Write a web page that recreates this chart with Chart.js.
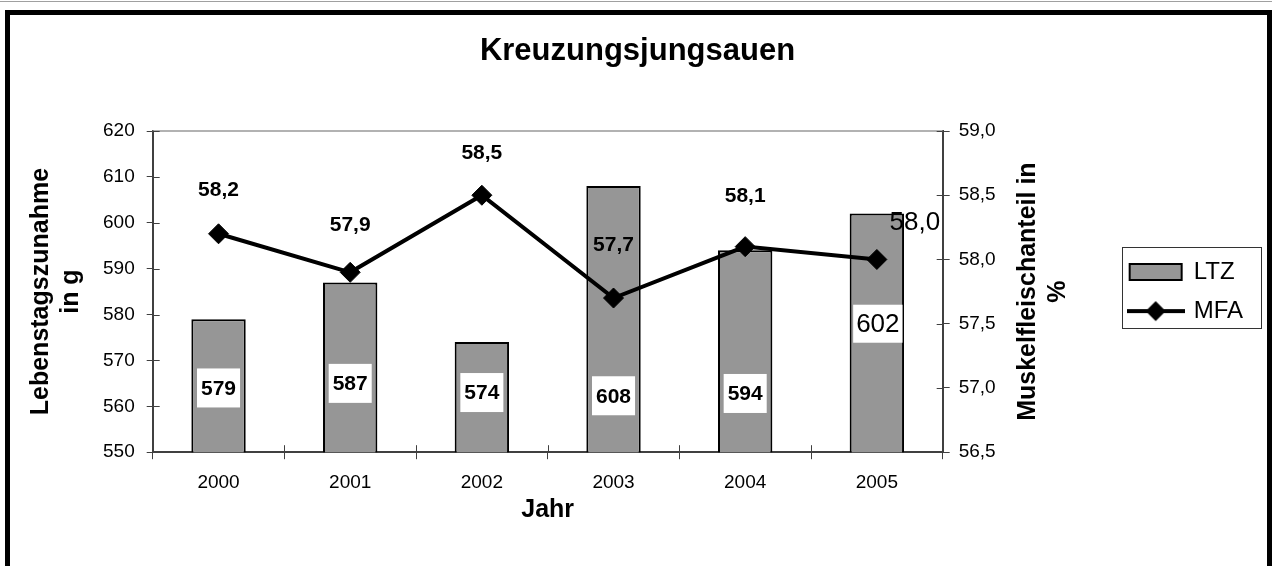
<!DOCTYPE html>
<html>
<head>
<meta charset="utf-8">
<title>Kreuzungsjungsauen</title>
<script src="https://cdn.jsdelivr.net/npm/chart.js@4.4.1/dist/chart.umd.min.js"></script>
<style>
  html, body { margin: 0; padding: 0; background: #fff; overflow: hidden; }
  #wrap { position: relative; width: 1272px; height: 566px; }
  #c { position: absolute; left: 0; top: 0; }
  #topline { position: absolute; left: 0; top: 1px; width: 1272px; height: 1px; background: #a0a0a0; }
  #frame { position: absolute; left: 5px; top: 10px; width: 1267px; height: 600px;
           border: 5px solid #000; box-sizing: border-box; pointer-events: none; }
</style>
</head>
<body>
<div id="wrap">
  <div id="topline"></div>
  <canvas id="c" width="1272" height="566"></canvas>
  <div id="frame"></div>
</div>
<script>
// Daten
const jahre = ['2000', '2001', '2002', '2003', '2004', '2005'];
const ltz = [579, 587, 574, 608, 594, 602];          // Lebenstagszunahme in g
const mfa = [58.2, 57.9, 58.5, 57.7, 58.1, 58.0];     // Muskelfleischanteil in %
const linksSkala = [550, 560, 570, 580, 590, 600, 610, 620];
const rechtsSkala = [56.5, 57.0, 57.5, 58.0, 58.5, 59.0];

const FONT = "'Liberation Sans', Arial, sans-serif";
const balkenFarbe = '#969696';
const achsenFarbe = '#404040';

Chart.defaults.font.family = FONT;
Chart.defaults.color = '#000';

const komma = v => v.toFixed(1).replace('.', ',');

// Legendensymbol für die Linie (Linie mit Raute)
const mfaSymbol = document.createElement('canvas');
mfaSymbol.width = 58;
mfaSymbol.height = 22;
(() => {
  const g = mfaSymbol.getContext('2d');
  g.strokeStyle = '#000';
  g.lineWidth = 4;
  g.beginPath();
  g.moveTo(0, 11);
  g.lineTo(58, 11);
  g.stroke();
  g.fillStyle = '#000';
  g.beginPath();
  g.moveTo(29, 1); g.lineTo(39, 11); g.lineTo(29, 21); g.lineTo(19, 11);
  g.closePath();
  g.fill();
})();

const zusatz = {
  id: 'zusatz',
  beforeDatasetsDraw(chart) {
    const ctx = chart.ctx;
    const {left, right, top, bottom} = chart.chartArea;
    ctx.save();
    // obere Rahmenlinie der Zeichenfläche
    ctx.strokeStyle = '#999';
    ctx.lineWidth = 1.5;
    ctx.beginPath();
    ctx.moveTo(left, top);
    ctx.lineTo(right, top);
    ctx.stroke();
    // Teilstriche nach innen
    ctx.strokeStyle = achsenFarbe;
    ctx.lineWidth = 1;
    ctx.beginPath();
    linksSkala.forEach(v => {
      const py = Math.round(chart.scales.y.getPixelForValue(v)) + 0.5;
      ctx.moveTo(left, py); ctx.lineTo(left + 7, py);
    });
    rechtsSkala.forEach(v => {
      const py = Math.round(chart.scales.y1.getPixelForValue(v)) + 0.5;
      ctx.moveTo(right - 6, py); ctx.lineTo(right, py);
    });
    const xs = chart.scales.x;
    const halb = (xs.getPixelForValue(1) - xs.getPixelForValue(0)) / 2;
    for (let i = 0; i <= jahre.length; i++) {
      const px = Math.round(xs.getPixelForValue(i) - halb) + 0.5;
      ctx.moveTo(px, bottom); ctx.lineTo(px, bottom - 7);
    }
    ctx.stroke();
    ctx.restore();
  },
  afterDatasetsDraw(chart) {
    const ctx = chart.ctx;
    const y = chart.scales.y;
    const balken = chart.getDatasetMeta(0).data;
    const punkte = chart.getDatasetMeta(1).data;
    const balkenLabelBei = [564, 565, 563, 562.3, 562.8, 578];
    const mfaAbstand = [44, 47, 42, 53, 50];
    ctx.save();
    ctx.textAlign = 'center';
    ctx.textBaseline = 'middle';
    balken.forEach((b, i) => {
      const letzte = i === balken.length - 1;
      const txt = String(ltz[i]);
      ctx.font = (letzte ? '26px ' : 'bold 21px ') + FONT;
      const w = ctx.measureText(txt).width + (letzte ? 6 : 8);
      const h = letzte ? 38 : 39;
      const cy = y.getPixelForValue(balkenLabelBei[i]);
      ctx.fillStyle = '#fff';
      ctx.fillRect(b.x - w / 2 + (letzte ? 1 : 0), cy - h / 2, w, h);
      ctx.fillStyle = '#000';
      ctx.fillText(txt, b.x + (letzte ? 1 : 0), cy + 1);
    });
    punkte.forEach((p, i) => {
      const txt = komma(mfa[i]);
      if (i === punkte.length - 1) {
        ctx.font = '26px ' + FONT;
        ctx.fillText(txt, p.x + 38, p.y - 37);
      } else {
        ctx.font = 'bold 21px ' + FONT;
        ctx.fillText(txt, p.x, p.y - mfaAbstand[i]);
      }
    });
    ctx.restore();
  },
  afterDraw(chart) {
    const ctx = chart.ctx;
    // rechter Achsentitel, von unten nach oben gelesen
    const s = chart.scales.y1;
    const mitte = (s.top + s.bottom) / 2;
    const zeilen = ['Muskelfleischanteil in', '%'];
    ctx.save();
    ctx.font = 'bold 25px ' + FONT;
    ctx.fillStyle = '#000';
    ctx.textAlign = 'center';
    ctx.textBaseline = 'middle';
    zeilen.forEach((z, k) => {
      const x = s.right - 42 - 30 * (zeilen.length - k) + 15;
      ctx.save();
      ctx.translate(x, mitte);
      ctx.rotate(-Math.PI / 2);
      ctx.fillText(z, 0, 0);
      ctx.restore();
    });
    // Rahmen um die Legende
    const hb = chart.legend.legendHitBoxes;
    if (hb && hb.length) {
      const l = Math.round(hb[0].left - 8) + 0.5;
      const t = Math.round(hb[0].top - 13) + 0.5;
      const r = Math.round(hb[0].left + 131) + 0.5;
      const u = Math.round(hb[hb.length - 1].top + 29) + 0.5;
      ctx.strokeStyle = '#333';
      ctx.lineWidth = 1;
      ctx.strokeRect(l, t, r - l, u - t);
    }
    ctx.restore();
  }
};

new Chart(document.getElementById('c'), {
  type: 'bar',
  data: {
    labels: jahre,
    datasets: [
      {
        label: 'LTZ',
        data: ltz,
        yAxisID: 'y',
        backgroundColor: balkenFarbe,
        borderColor: '#000',
        borderWidth: 2,
        barPercentage: 0.413,
        categoryPercentage: 1,
        order: 1
      },
      {
        type: 'line',
        label: 'MFA',
        data: mfa,
        yAxisID: 'y1',
        borderColor: '#000',
        borderWidth: 4,
        tension: 0,
        pointStyle: 'rectRot',
        pointRadius: 10,
        pointBackgroundColor: '#000',
        pointBorderColor: '#000',
        pointBorderWidth: 1,
        order: 0
      }
    ]
  },
  options: {
    responsive: false,
    devicePixelRatio: 1,
    animation: false,
    events: [],
    layout: { padding: { left: 22, right: 19, top: 15, bottom: 41 } },
    plugins: {
      tooltip: { enabled: false },
      title: {
        display: true,
        text: 'Kreuzungsjungsauen',
        color: '#000',
        font: { size: 31, weight: 'bold' },
        padding: { top: 17.6, bottom: 61.2 }
      },
      legend: {
        position: 'right',
        fullSize: false,
        labels: {
          usePointStyle: true,
          pointStyleWidth: 52,
          boxHeight: 16,
          padding: 15,
          color: '#000',
          font: { size: 24 },
          generateLabels: chart => [
            { text: chart.data.datasets[0].label, fillStyle: balkenFarbe, strokeStyle: '#000',
              lineWidth: 2, pointStyle: 'rect', datasetIndex: 0 },
            { text: chart.data.datasets[1].label, fillStyle: '#000', strokeStyle: '#000',
              lineWidth: 0, pointStyle: mfaSymbol, datasetIndex: 1 }
          ]
        }
      }
    },
    scales: {
      x: {
        grid: { drawOnChartArea: false, tickLength: 7, color: achsenFarbe, offset: true },
        border: { color: achsenFarbe, width: 2 },
        ticks: { padding: 12, font: { size: 19 }, color: '#000' },
        title: {
          display: true,
          text: 'Jahr',
          color: '#000',
          font: { size: 25, weight: 'bold' },
          padding: { top: -11, bottom: 0 }
        }
      },
      y: {
        position: 'left',
        min: linksSkala[0],
        max: linksSkala[linksSkala.length - 1],
        afterBuildTicks: s => { s.ticks = linksSkala.map(v => ({ value: v })); },
        grid: { drawOnChartArea: false, tickLength: 6, color: achsenFarbe },
        border: { color: achsenFarbe, width: 2 },
        ticks: { padding: 12, font: { size: 19 }, color: '#000' },
        title: {
          display: true,
          text: ['Lebenstagszunahme', 'in g'],
          color: '#000',
          font: { size: 25, weight: 'bold', lineHeight: 1.2 },
          padding: { top: 4, bottom: 5 }
        }
      },
      y1: {
        position: 'right',
        min: rechtsSkala[0],
        max: rechtsSkala[rechtsSkala.length - 1],
        afterBuildTicks: s => { s.ticks = rechtsSkala.map(v => ({ value: v })); },
        grid: { drawOnChartArea: false, tickLength: 7, color: achsenFarbe },
        border: { color: achsenFarbe, width: 2 },
        ticks: { padding: 9, font: { size: 19 }, color: '#000', callback: v => komma(v) },
        title: {
          display: true,
          text: ['Muskelfleischanteil in', '%'],
          color: 'rgba(0,0,0,0)',
          font: { size: 25, weight: 'bold', lineHeight: 1.2 },
          padding: { top: 42, bottom: 8 }
        }
      }
    }
  },
  plugins: [zusatz]
});
</script>
</body>
</html>
